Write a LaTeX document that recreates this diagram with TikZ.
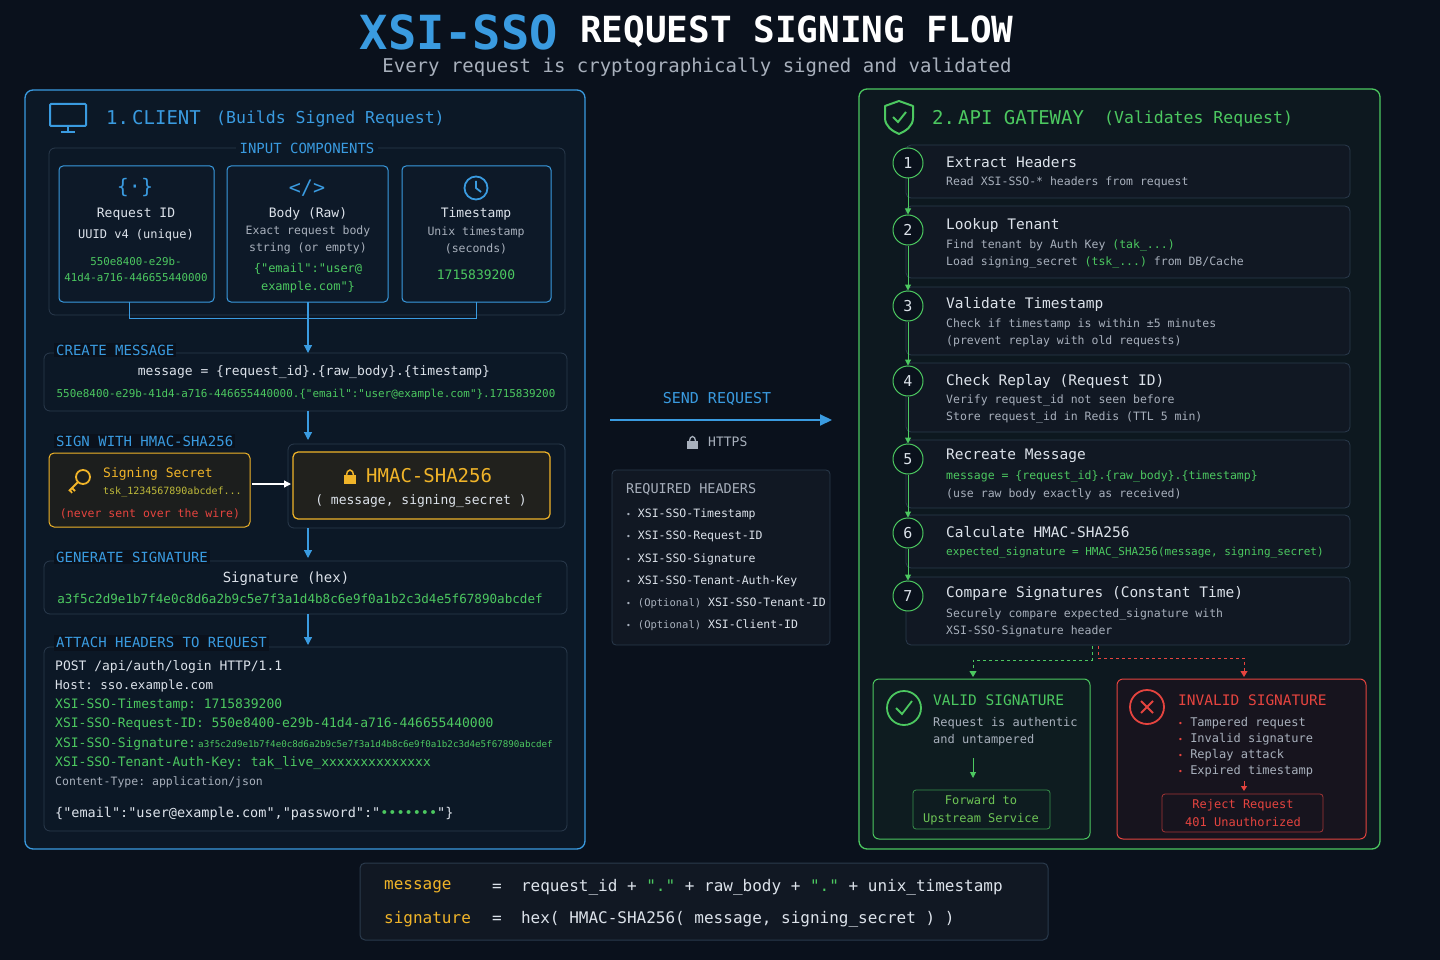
\documentclass[tikz,border=0pt]{standalone}
\usepackage{fontspec}
\setmonofont{DejaVu Sans Mono}
\renewcommand{\familydefault}{\ttdefault}
\usetikzlibrary{arrows.meta}
\definecolor{bg}{HTML}{0A111C}
\definecolor{bl}{HTML}{3A9BE0}
\definecolor{gr}{HTML}{4CC860}
\definecolor{ye}{HTML}{F0B429}
\definecolor{rd}{HTML}{E5443F}
\definecolor{tx}{HTML}{DCE2EA}
\definecolor{mu}{HTML}{A8B0BC}
\definecolor{fr}{HTML}{2A3A4C}
\newcommand{\fs}[1]{\fontsize{#1pt}{\dimexpr #1pt*6/5\relax}\selectfont}
\begin{document}
\begin{tikzpicture}[x=1pt,y=-1pt,
  t/.style={text=tx,inner sep=0pt,font=\fs{13}},
  tl/.style={t,anchor=west},
  sec/.style={anchor=west,text=bl,font=\fs{14},fill=bg,inner sep=2pt},
  card/.style={draw=bl,line width=1pt,rounded corners=4pt,fill=bl!6!bg},
  frame/.style={draw=fr,line width=0.8pt,rounded corners=6pt},
  stepbox/.style={draw=fr,line width=0.8pt,rounded corners=5pt,fill=white!3!bg},
  num/.style={circle,draw=gr,line width=1pt,minimum size=30pt,fill=bg,text=tx,font=\fs{15},inner sep=0pt},
  ba/.style={draw=bl,line width=1.2pt,-{Triangle[length=8pt,width=8pt]}},
  ga/.style={draw=gr,line width=1pt,-{Triangle[length=6pt,width=6pt]}}]
\fill[bg] (0,0) rectangle (1440,960);
\useasboundingbox (0,0) rectangle (1440,960);
% title
\node[anchor=east,text=bl,font=\fs{47}\bfseries,inner sep=0] (tt1) at (558,32) {XSI-SSO};
\node[anchor=west,text=white,font=\fs{36}\bfseries,inner sep=0] (tt2) at (580,32) {REQUEST SIGNING FLOW};
\node[text=mu,font=\fs{19},inner sep=0] (sub) at (697,67) {Every request is cryptographically signed and validated};
% client panel
\draw[bl,line width=1.3pt,rounded corners=8pt,fill=bl!5!bg] (25,90) rectangle (585,849);
\draw[bl,line width=2pt,rounded corners=1pt] (50,104) rectangle (86,126);
\draw[bl,line width=2pt] (68,126)--(68,131) (61,132)--(75,132);
\node[anchor=west,text=bl,font=\fs{19},inner sep=0] (ch) at (106,118) {1.\,CLIENT};
\node[anchor=west,text=bl,font=\fs{16.5},inner sep=0] at (216,119) {(Builds Signed Request)};
\draw[frame] (49,148) rectangle (565,315);
\node[text=bl,font=\fs{14},fill=bl!5!bg,inner sep=4pt] at (307,148) {INPUT COMPONENTS};
\draw[card] (59,166) rectangle (214,302);
\draw[card] (227,166) rectangle (388,302);
\draw[card] (402,166) rectangle (551,302);
\node[text=bl,font=\fs{20},inner sep=0] at (135,188) {\{·\}};
\node[text=bl,font=\fs{20},inner sep=0] at (307,188) {</>};
\draw[bl,line width=1.8pt] (476,188) circle (11.5) (476,181)--(476,188)--(481,192);
\node[t] (rid) at (136,214) {Request ID};
\node[t,font=\fs{12}] at (136,235) {UUID v4 (unique)};
\node[t,text=gr,font=\fs{10.8},align=center] at (136,269) {550e8400-e29b-\\[3pt]41d4-a716-446655440000};
\node[t] (bdy) at (308,214) {Body (Raw)};
\node[t,font=\fs{11.5},text=mu,align=center] at (308,240) {Exact request body\\[3pt]string (or empty)};
\node[t,text=gr,font=\fs{12},align=center] at (308,278) {\{"email":"user@\\[3pt]example.com"\}};
\node[t] (tsn) at (476,214) {Timestamp};
\node[t,font=\fs{11.5},text=mu,align=center] at (476,240) {Unix timestamp\\[3pt](seconds)};
\node[t,text=gr,font=\fs{13}] at (476,275) {1715839200};
\draw[bl,line width=1pt] (129,302)--(129,318)--(476,318)--(476,302);
\coordinate (a0) at (308,302);
% create message
\draw[frame] (44,353) rectangle (567,411);
\node[sec] at (54,350) {CREATE MESSAGE};
\node[t] (msg) at (314,372) {message = \{request\_id\}.\{raw\_body\}.\{timestamp\}};
\node[t,text=gr,font=\fs{10.9}] at (306,394) {550e8400-e29b-41d4-a716-446655440000.\{"email":"user@example.com"\}.1715839200};
\coordinate (cm) at (308,353);
\draw[ba] (a0)--(cm);
% sign
\node[sec] at (54,441) {SIGN WITH HMAC-SHA256};
\draw[frame] (288,444) rectangle (565,528);
\draw[ye,line width=1pt,rounded corners=5pt,fill=ye!8!bg] (49,453) rectangle (250,527);
\draw[ye,line width=1.2pt,rounded corners=5pt,fill=ye!10!bg] (293,452) rectangle (550,519);
\draw[ye,line width=1.8pt] (83,477) circle (7) (78,482)--(69,491) (72,488)--(75,491) (70,490)--(72,493);
\node[tl,text=ye] (ss) at (103,474) {Signing Secret};
\node[tl,text=ye!70!gr,font=\fs{10}] at (103,492) {tsk\_1234567890abcdef...};
\node[t,text=rd,font=\fs{11.5}] at (150,514) {(never sent over the wire)};
\fill[ye] (344,475) rectangle (356,484);
\draw[ye,line width=1.5pt] (346.5,475) arc (180:360:3.5 and 5);
\node[tl,text=ye,font=\fs{19}] (hm) at (366,476) {HMAC-SHA256};
\node[t] at (421,501) {( message, signing\_secret )};
\coordinate (sr) at (252,484); \coordinate (hl) at (291,484);
\draw[white,line width=1.3pt,-{Triangle[length=7pt,width=7pt]}] (sr)--(hl);
\draw[ba] (308,411)--(308,440);
% signature
\draw[ba] (308,528)--(308,558);
\draw[frame] (44,561) rectangle (567,614);
\node[sec] at (54,557) {GENERATE SIGNATURE};
\node[t,font=\fs{14}] (sig) at (286,579) {Signature (hex)};
\node[t,text=gr,font=\fs{12.6}] at (300,599) {a3f5c2d9e1b7f4e0c8d6a2b9c5e7f3a1d4b8c6e9f0a1b2c3d4e5f67890abcdef};
\draw[ba] (308,614)--(308,645);
% attach headers
\draw[frame] (44,647) rectangle (567,831);
\node[sec] at (54,643) {ATTACH HEADERS TO REQUEST};
\node[tl] at (55,667) {POST /api/auth/login HTTP/1.1};
\node[tl,font=\fs{12.5}] at (55,686) {Host: sso.example.com};
\node[tl,text=gr] at (55,705) {XSI-SSO-Timestamp: 1715839200};
\node[tl,text=gr] at (55,724) {XSI-SSO-Request-ID: 550e8400-e29b-41d4-a716-446655440000};
\node[tl,text=gr] at (55,744) {XSI-SSO-Signature:\,{\fs{9.2}a3f5c2d9e1b7f4e0c8d6a2b9c5e7f3a1d4b8c6e9f0a1b2c3d4e5f67890abcdef}};
\node[tl,text=gr] at (55,763) {XSI-SSO-Tenant-Auth-Key: tak\_live\_xxxxxxxxxxxxxx};
\node[tl,font=\fs{11.5},text=mu] at (55,782) {Content-Type: application/json};
\node[tl,font=\fs{13.5}] at (55,814) {\{"email":"user@example.com","password":"{\color{gr}•••••••}"\}};
% middle
\node[text=bl,font=\fs{15},inner sep=0] (send) at (717,399) {SEND REQUEST};
\coordinate (s1) at (610,420); \coordinate (s2) at (832,420);
\draw[bl,line width=2pt,-{Triangle[length=12pt,width=11pt]}] (s1)--(s2);
\fill[mu] (687,441) rectangle (698,449);
\draw[mu,line width=1.3pt] (689.5,441) arc (180:360:3 and 4.5);
\node[tl,text=mu,font=\fs{13}] at (708,442) {HTTPS};
\draw[frame,rounded corners=4pt,fill=white!3!bg] (612,470) rectangle (830,645);
\node[tl,text=mu,font=\fs{13.5}] (rh) at (626,489) {REQUIRED HEADERS};
\foreach \y/\s in {514/XSI-SSO-Timestamp,536/XSI-SSO-Request-ID,559/XSI-SSO-Signature,581/XSI-SSO-Tenant-Auth-Key}
  \node[tl,font=\fs{11.5}] at (626,\y) {{\color{mu}\fs{8}•} \s};
\node[tl,font=\fs{11.5}] at (626,603) {{\color{mu}{\fs{8}•} {\fs{10.5}(Optional)}} XSI-SSO-Tenant-ID};
\node[tl,font=\fs{11.5}] at (626,625) {{\color{mu}{\fs{8}•} {\fs{10.5}(Optional)}} XSI-Client-ID};
% gateway
\draw[gr,line width=1.3pt,rounded corners=8pt,fill=gr!4!bg] (859,89) rectangle (1380,849);
\draw[gr,line width=2pt,line join=round] (899,101)--(913,106)--(913,118) .. controls (913,126) and (906,131) .. (899,134) .. controls (892,131) and (885,126) .. (885,118)--(885,106)--cycle;
\draw[gr,line width=2pt] (893,117)--(898,122)--(906,112);
\node[anchor=west,text=gr,font=\fs{19},inner sep=0] (gh) at (932,118) {2.\,API GATEWAY};
\node[anchor=west,text=gr,font=\fs{16.5},inner sep=0] at (1104,119) {(Validates Request)};
\foreach \a/\b in {145/198,206/278,287/355,363/432,440/508,515/568,577/645}
  \draw[stepbox] (906,\a) rectangle (1350,\b);
\foreach \i/\y in {1/163,2/230,3/306,4/381,5/459,6/533,7/596}
  \node[num] (n\i) at (908,\y) {\i};
\foreach \i/\j in {1/2,2/3,3/4,4/5,5/6,6/7} \draw[ga] (n\i)--(n\j);
\tikzset{st/.style={tl,font=\fs{14.5}},sd/.style={tl,font=\fs{11.5},text=mu}}
\node[st] at (946,162) {Extract Headers};
\node[sd] at (946,182) {Read XSI-SSO-* headers from request};
\node[st] at (946,225) {Lookup Tenant};
\node[sd] at (946,245) {Find tenant by Auth Key {\color{gr}(tak\_...)}};
\node[sd] at (946,262) {Load signing\_secret {\color{gr}(tsk\_...)} from DB/Cache};
\node[st] at (946,304) {Validate Timestamp};
\node[sd] at (946,324) {Check if timestamp is within ±5 minutes};
\node[sd] at (946,341) {(prevent replay with old requests)};
\node[st] at (946,381) {Check Replay (Request ID)};
\node[sd] at (946,400) {Verify request\_id not seen before};
\node[sd] at (946,417) {Store request\_id in Redis (TTL 5 min)};
\node[st] at (946,456) {Recreate Message};
\node[sd,text=gr] at (946,476) {message = \{request\_id\}.\{raw\_body\}.\{timestamp\}};
\node[sd] at (946,494) {(use raw body exactly as received)};
\node[st] at (946,532) {Calculate HMAC-SHA256};
\node[sd,text=gr,font=\fs{11}] at (946,553) {expected\_signature = HMAC\_SHA256(message, signing\_secret)};
\node[st] at (946,594) {Compare Signatures (Constant Time)};
\node[sd] at (946,614) {Securely compare expected\_signature with};
\node[sd] at (946,631) {XSI-SSO-Signature header};
% outcomes
\draw[gr,line width=1pt,rounded corners=6pt,fill=gr!6!bg] (873,679) rectangle (1090,839);
\draw[rd,line width=1pt,rounded corners=6pt,fill=rd!6!bg] (1117,679) rectangle (1366,839);
\coordinate (vt) at (973,677); \coordinate (it) at (1244,677);
\draw[gr,line width=1pt,dashed,-{Triangle[length=6pt,width=7pt]}] (1092,646)--(1092,660)--(973,660)--(vt);
\draw[rd,line width=1pt,dashed,-{Triangle[length=6pt,width=7pt]}] (1098,646)--(1098,658)--(1244,658)--(it);
\draw[gr,line width=1.8pt] (904,708) circle (17) (896,708)--(902,714)--(912,701);
\node[tl,text=gr,font=\fs{14.5}] (vs) at (933,700) {VALID SIGNATURE};
\node[tl,font=\fs{12},text=mu] at (933,723) {Request is authentic};
\node[tl,font=\fs{12},text=mu] at (933,740) {and untampered};
\draw[ga] (973,758)--(973,778);
\draw[gr!70!bg,line width=0.8pt,rounded corners=3pt] (913,790) rectangle (1050,829);
\node[t,text=gr!80!ye,font=\fs{12},align=center] (fw) at (981,810) {Forward to\\[3pt]Upstream Service};
\draw[rd,line width=1.8pt] (1147,707) circle (17) (1141,701)--(1153,713) (1153,701)--(1141,713);
\node[tl,text=rd,font=\fs{14.5}] (is) at (1178,700) {INVALID SIGNATURE};
\foreach \y/\s in {723/Tampered request,739/Invalid signature,755/Replay attack,771/Expired timestamp}
  \node[tl,font=\fs{12},text=mu] at (1178,\y) {{\color{rd}\fs{8}•} \s};
\draw[rd,line width=1pt,-{Triangle[length=5pt,width=6pt]}] (1244,781)--(1244,791);
\draw[rd!70!bg,line width=0.8pt,rounded corners=3pt] (1162,794) rectangle (1323,832);
\node[t,text=rd,font=\fs{12},align=center] (rj) at (1243,813) {Reject Request\\[3pt]401 Unauthorized};
% bottom formula
\draw[fr,line width=1pt,rounded corners=5pt,fill=white!3!bg] (360,863) rectangle (1048,940);
\node[tl,text=ye,font=\fs{16}] (fm) at (384,887) {message};
\node[tl,text=ye,font=\fs{16}] at (384,919) {signature};
\node[tl,font=\fs{16}] at (492,887) {=\ \ request\_id + {\color{gr}"."} + raw\_body + {\color{gr}"."} + unix\_timestamp};
\node[tl,font=\fs{16}] at (492,919) {=\ \ hex( HMAC-SHA256( message, signing\_secret ) )};
\end{tikzpicture}
\end{document}
